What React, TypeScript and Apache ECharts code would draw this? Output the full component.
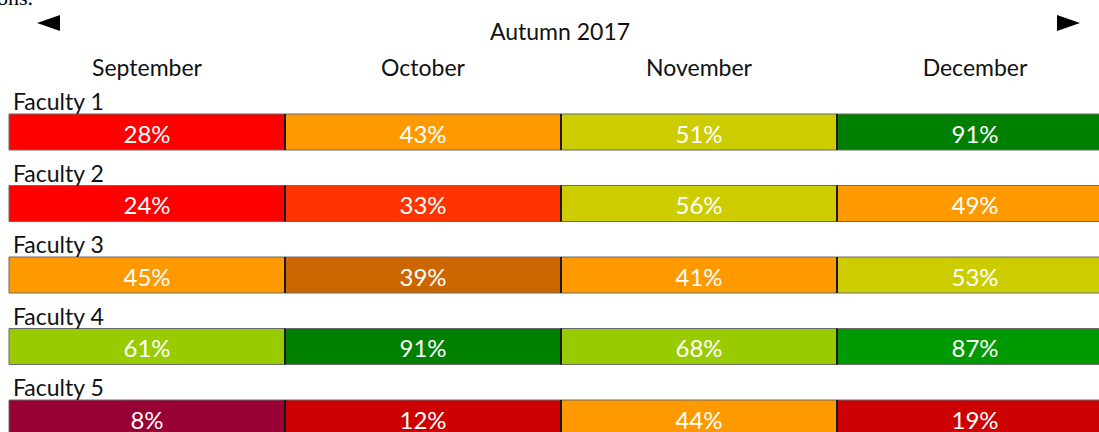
import React, { useEffect, useRef } from 'react';
import * as echarts from 'echarts';

const months = ['September', 'October', 'November', 'December'];
const faculties = ['Faculty 1', 'Faculty 2', 'Faculty 3', 'Faculty 4', 'Faculty 5'];
const periodTitle = 'Autumn 2017';

const faculty1 = [28, 43, 51, 91];
const faculty2 = [24, 33, 56, 49];
const faculty3 = [45, 39, 41, 53];
const faculty4 = [61, 91, 68, 87];
const faculty5 = [8, 12, 44, 19];

const faculty1Colors = ['#FF0000', '#FF9900', '#CCCC00', '#008000'];
const faculty2Colors = ['#FF0000', '#FF3300', '#CCCC00', '#FF9900'];
const faculty3Colors = ['#FF9900', '#CC6600', '#FF9900', '#CCCC00'];
const faculty4Colors = ['#99CC00', '#008000', '#99CC00', '#009900'];
const faculty5Colors = ['#990033', '#CC0000', '#FF9900', '#CC0000'];

const facultyValues = [faculty1, faculty2, faculty3, faculty4, faculty5];
const cellColors = [faculty1Colors, faculty2Colors, faculty3Colors, faculty4Colors, faculty5Colors];

const FONT = 'Lato, "Open Sans", sans-serif';

export default function App() {
  const ref = useRef<HTMLDivElement>(null);

  useEffect(() => {
    if (!ref.current) return;
    const chart = echarts.init(ref.current, null, { renderer: 'svg' });
    const data: number[][] = [];
    facultyValues.forEach((row, r) => row.forEach((v, c) => data.push([c, r, v])));

    chart.setOption({
      animation: false,
      backgroundColor: '#ffffff',
      title: {
        text: periodTitle,
        left: 560,
        top: 19,
        padding: 0,
        textAlign: 'center',
        textStyle: { fontSize: 23, fontWeight: 'normal', fontFamily: FONT, color: '#111' },
      },
      grid: { left: 9, top: 78.5, width: 1104, height: 357.5, outerBoundsMode: 'none' },
      xAxis: {
        type: 'category',
        position: 'top',
        data: months,
        axisLine: { show: false },
        axisTick: { show: false },
        splitLine: { show: false },
        axisLabel: { fontSize: 23, fontFamily: FONT, color: '#111', margin: 0 },
      },
      yAxis: {
        type: 'category',
        data: faculties,
        inverse: true,
        show: false,
      },
      graphic: [
        {
          type: 'text',
          x: -3,
          y: -14,
          style: { text: 'ons.', font: '22px "Liberation Serif", serif', fill: '#000' },
        },
        {
          type: 'polygon',
          shape: { points: [[37, 23], [60, 15], [60, 31]] },
          style: { fill: '#000' },
        },
        {
          type: 'polygon',
          shape: { points: [[1057, 15], [1080, 23], [1057, 31]] },
          style: { fill: '#000' },
        },
      ],
      series: [
        {
          type: 'custom',
          data,
          renderItem: (params: any, api: any) => {
            const c = api.value(0);
            const r = api.value(1);
            const v = api.value(2);
            const center = api.coord([c, r]);
            const bw = api.size([1, 0])[0];
            const bh = api.size([0, 1])[1];
            const barH = 36;
            const x0 = center[0] - bw / 2;
            const y0 = center[1] + bh / 2 - barH;
            const children: any[] = [
              {
                type: 'rect',
                shape: { x: x0, y: y0, width: bw, height: barH },
                style: { fill: cellColors[r][c], stroke: '#6b6b6b', lineWidth: 1 },
              },
              {
                type: 'text',
                x: center[0],
                y: y0 + barH / 2 + 1,
                style: {
                  text: v + '%',
                  align: 'center',
                  verticalAlign: 'middle',
                  fill: '#ffffff',
                  font: '24px ' + FONT,
                },
              },
            ];
            if (c > 0) {
              children.push({
                type: 'line',
                shape: { x1: x0, y1: y0, x2: x0, y2: y0 + barH },
                style: { stroke: '#1a1a1a', lineWidth: 2 },
              });
            }
            if (c === 0) {
              children.push({
                type: 'text',
                x: x0 + 4,
                y: y0 - 13,
                style: {
                  text: faculties[r],
                  align: 'left',
                  verticalAlign: 'middle',
                  fill: '#111',
                  font: '23px ' + FONT,
                },
              });
            }
            return { type: 'group', children };
          },
        },
      ],
    });
    return () => chart.dispose();
  }, []);

  return (
    <div
      ref={ref}
      style={{ position: 'fixed', left: 0, top: 0, width: 1099, height: 432 }}
    />
  );
}
